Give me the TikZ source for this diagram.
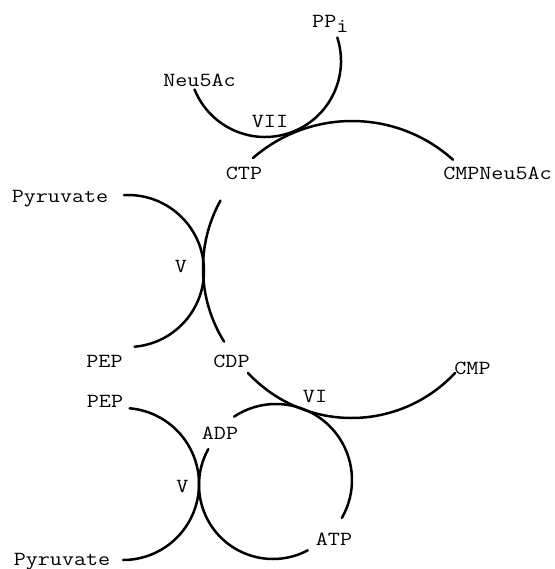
\documentclass[tikz,border=0pt]{standalone}
\newcommand{\tw}[1]{\scalebox{1.17}[1]{\ttfamily\fontsize{20}{24}\selectfont #1}}
\tikzset{
  lbl/.style={inner sep=0pt, anchor=base},
  rxn/.style={line width=2.5pt, line cap=round}
}
\begin{document}
\begin{tikzpicture}[x=1pt,y=1pt]
\useasboundingbox (0,0) rectangle (554,-569);
% circle centres
\coordinate (c1) at (265,-61);
\coordinate (c2) at (352,-272);
\coordinate (c3) at (342,-268);
\coordinate (c4) at (128,-271);
\coordinate (c5) at (351.5,-276.5);
\coordinate (c6) at (276,-480);
\coordinate (c7) at (123,-484);
\coordinate (c8) at (273,-485);
% arcs
\draw[rxn] ([shift={(202:76)}]c1) arc[start angle=202, end angle=378, radius=76];
\draw[rxn] ([shift={(131:151)}]c2) arc[start angle=131, end angle=48, radius=151];
\draw[rxn] ([shift={(151:139)}]c3) arc[start angle=151, end angle=212, radius=139];
\draw[rxn] ([shift={(93:76)}]c4) arc[start angle=93, end angle=-85, radius=76];
\draw[rxn] ([shift={(223:141.5)}]c5) arc[start angle=223, end angle=317, radius=141.5];
\draw[rxn] ([shift={(123.5:76)}]c6) arc[start angle=123.5, end angle=-30, radius=76];
\draw[rxn] ([shift={(85:76)}]c7) arc[start angle=85, end angle=-90, radius=76];
\draw[rxn] ([shift={(151:74)}]c8) arc[start angle=151, end angle=298, radius=74];
% labels
\node[lbl, anchor=base west] (ppi) at (312,-28) {\tw{PP\raisebox{-5pt}{i}}};
\node[lbl] (neu) at (199.5,-87) {\tw{Neu5Ac}};
\node[lbl] (vii) at (270,-128) {\tw{VII}};
\node[lbl] (ctp) at (244,-180) {\tw{CTP}};
\node[lbl] (cmpneu) at (497.5,-180) {\tw{CMPNeu5Ac}};
\node[lbl] (pyr1) at (60,-203) {\tw{Pyruvate}};
\node[lbl] (v1) at (181,-272) {\tw{V}};
\node[lbl] (pep1) at (104.5,-367) {\tw{PEP}};
\node[lbl] (cdp) at (231.5,-367) {\tw{CDP}};
\node[lbl] (cmp) at (472.5,-374) {\tw{CMP}};
\node[lbl] (vi) at (315,-402) {\tw{VI}};
\node[lbl] (pep2) at (105,-407) {\tw{PEP}};
\node[lbl] (adp) at (220,-439) {\tw{ADP}};
\node[lbl] (v2) at (182.5,-492) {\tw{V}};
\node[lbl] (atp) at (334,-545) {\tw{ATP}};
\node[lbl] (pyr2) at (62,-565) {\tw{Pyruvate}};
\end{tikzpicture}
\end{document}
